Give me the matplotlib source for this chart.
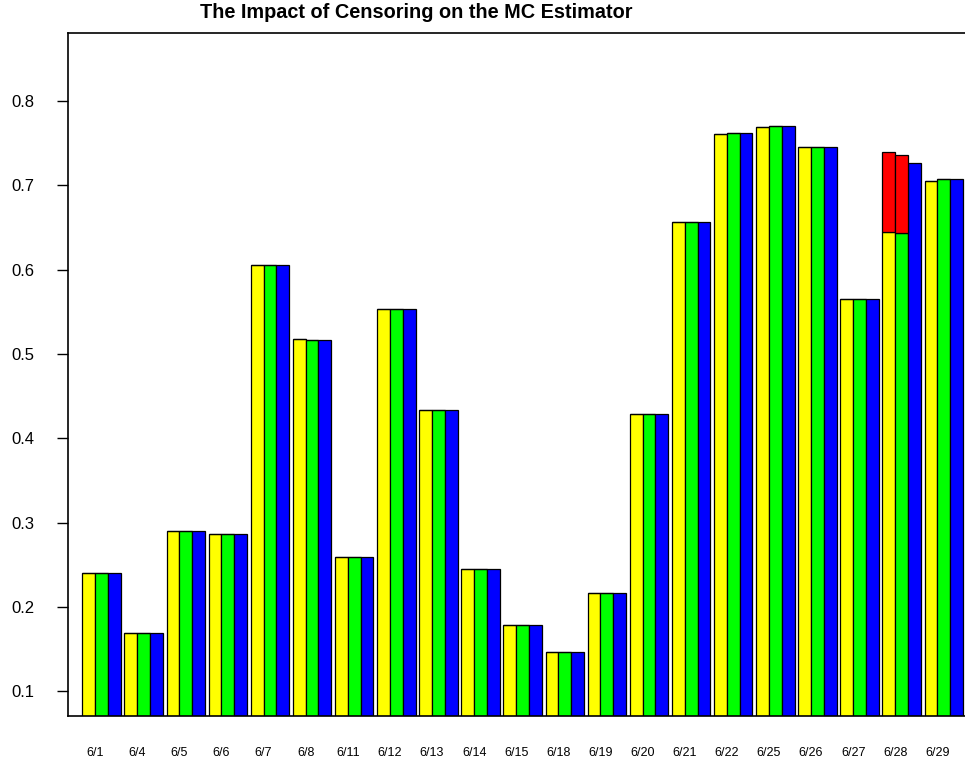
import numpy as np
import matplotlib.pyplot as plt

plt.rcParams['font.family'] = ['Liberation Sans', 'DejaVu Sans']

# data
dates = ['6/1', '6/4', '6/5', '6/6', '6/7', '6/8', '6/11', '6/12', '6/13', '6/14', '6/15',
         '6/18', '6/19', '6/20', '6/21', '6/22', '6/25', '6/26', '6/27', '6/28', '6/29']
yellow = [0.240, 0.169, 0.290, 0.286, 0.605, 0.518, 0.259, 0.553, 0.433, 0.245, 0.178,
          0.146, 0.216, 0.429, 0.656, 0.761, 0.769, 0.745, 0.565, 0.645, 0.705]
green = [0.240, 0.169, 0.290, 0.286, 0.605, 0.517, 0.259, 0.553, 0.433, 0.245, 0.178,
         0.146, 0.216, 0.429, 0.656, 0.762, 0.770, 0.745, 0.565, 0.643, 0.707]
blue = [0.240, 0.169, 0.290, 0.286, 0.605, 0.516, 0.259, 0.553, 0.433, 0.245, 0.178,
        0.146, 0.216, 0.429, 0.656, 0.762, 0.770, 0.745, 0.565, 0.727, 0.707]
# censored part stacked on top (only 6/28)
red_yellow = [0] * 19 + [0.094, 0]
red_green = [0] * 19 + [0.093, 0]

W, H = 965, 761
fig = plt.figure(figsize=(W / 100, H / 100), dpi=100)
# axes runs off the right edge, as in the reference
ax = fig.add_axes([68 / W, (H - 716) / H, 920 / W, (716 - 33) / H])

n = len(dates)
pitch = 3.29
x0 = 1.12 + np.arange(n) * pitch
bw = 1.0
kw = dict(width=bw, align='edge', edgecolor='black', linewidth=0.9)
ax.bar(x0, yellow, color='#ffff00', **kw)
ax.bar(x0 + bw, green, color='#00ff00', **kw)
ax.bar(x0 + 2 * bw, blue, color='#0000ff', **kw)
ax.bar(x0, red_yellow, bottom=yellow, color='#ff0000', **kw)
ax.bar(x0 + bw, red_green, bottom=green, color='#ff0000', **kw)

ax.set_xlim(0, 920 / 12.8)
ax.set_ylim(0.0705, 0.8807)
ax.set_yticks([0.1, 0.2, 0.3, 0.4, 0.5, 0.6, 0.7, 0.8])
ax.set_yticklabels(['0.1', '0.2', '0.3', '0.4', '0.5', '0.6', '0.7', '0.8'])
ax.set_xticks(x0 + 1.0)
ax.set_xticklabels(dates, fontsize=9)
ax.tick_params(axis='x', length=0, pad=22)
ax.tick_params(axis='y', length=8, width=1, pad=16, labelsize=12)
ax.spines['right'].set_visible(False)
for s in ['left', 'top', 'bottom']:
    ax.spines[s].set_linewidth(1.2)

fig.text(416 / W, 1 - 13 / H, 'The Impact of Censoring on the MC Estimator',
         ha='center', va='center', fontsize=14.3, fontweight='bold')

fig.savefig('out.png', dpi=100)
